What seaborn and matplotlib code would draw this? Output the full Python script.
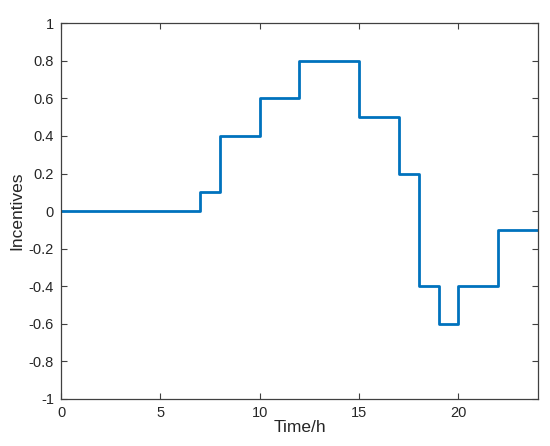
import matplotlib.pyplot as plt
import seaborn as sns
import pandas as pd
import numpy as np

# step start times (h) and incentive level from that time on
hours = [0, 7, 8, 10, 12, 15, 17, 18, 19, 20, 22, 24]
incentives = [0, 0.1, 0.4, 0.6, 0.8, 0.5, 0.2, -0.4, -0.6, -0.4, -0.1, -0.1]
y_ticks = [-1, -0.8, -0.6, -0.4, -0.2, 0, 0.2, 0.4, 0.6, 0.8, 1]
y_labels = ["-1", "-0.8", "-0.6", "-0.4", "-0.2", "0", "0.2", "0.4", "0.6", "0.8", "1"]

sns.set_theme(style="white")
plt.rcParams['font.family'] = ['Liberation Sans', 'DejaVu Sans']

ds = pd.DataFrame({"time": hours, "incentive": incentives})

fig = plt.figure(figsize=(5.5, 4.46), dpi=100)
ax = fig.add_axes([0.111, 0.1054, 0.867, 0.8426])

sns.lineplot(x="time", y="incentive", data=ds, ax=ax, color="#0072BD",
             linewidth=2, drawstyle="steps-post")

ax.set_xlim(0, 24)
ax.set_ylim(-1, 1)
ax.set_xticks([0, 5, 10, 15, 20])
ax.set_yticks(y_ticks)
ax.set_yticklabels(y_labels)
ax.set_xlabel("Time/h", fontsize=12.5, color="#262626", labelpad=0)
ax.set_ylabel("Incentives", fontsize=12.5, color="#262626", labelpad=3)

ax.tick_params(direction="in", length=4, width=0.8, colors="#404040",
               labelsize=10.5, top=True, right=True, bottom=True, left=True,
               labelcolor="#262626", pad=5)
for s in ax.spines.values():
    s.set_color("#404040")
    s.set_linewidth(0.9)

fig.savefig("out.png", dpi=100)
